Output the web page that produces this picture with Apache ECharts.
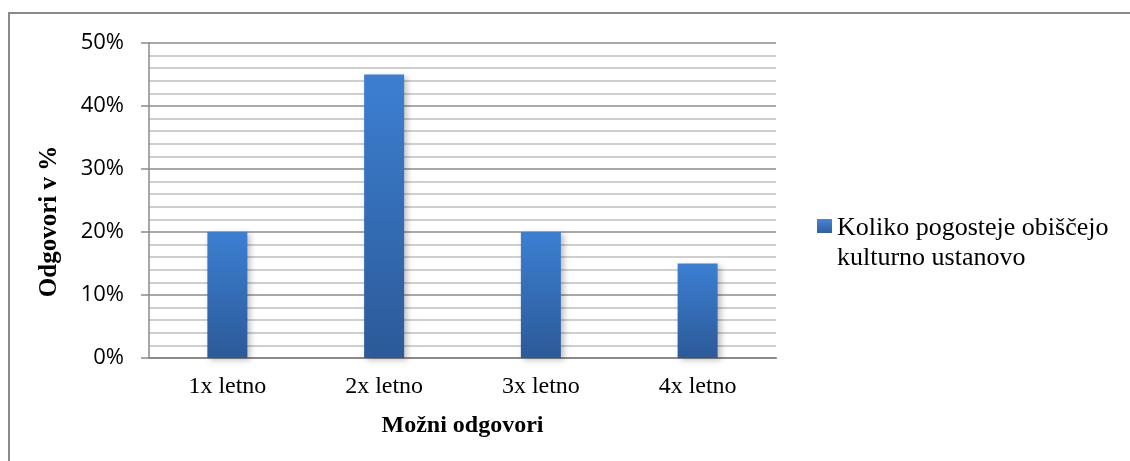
<!DOCTYPE html>
<html>
<head>
<meta charset="utf-8">
<script src="https://cdn.jsdelivr.net/npm/echarts@6/dist/echarts.min.js"></script>
<style>
html,body{margin:0;padding:0;background:#fff;}
#c{width:1130px;height:461px;}
</style>
</head>
<body>
<div id="c"></div>
<script>
const categories = ['1x letno', '2x letno', '3x letno', '4x letno'];
const values = [20, 45, 20, 15];
const seriesName = 'Koliko pogosteje obiščejo\nkulturno ustanovo';
const xAxisName = 'Možni odgovori';
const yAxisName = 'Odgovori v %';
const yMin = 0, yMax = 50, yInterval = 10;

const chart = echarts.init(document.getElementById('c'), null, {renderer: 'canvas'});
const serif = '"Liberation Serif", "Times New Roman", serif';
const barGrad = new echarts.graphic.LinearGradient(0, 0, 0, 1, [
  {offset: 0, color: '#3c7fd2'},
  {offset: 1, color: '#2c5a98'}
]);
const iconGrad = new echarts.graphic.LinearGradient(0, 0, 0, 0.3, [
  {offset: 0, color: '#4486d6'},
  {offset: 1, color: '#2d5e9f'}
]);
chart.setOption({
  animation: false,
  backgroundColor: '#fff',
  graphic: [{
    type: 'rect',
    shape: {x: 9, y: 13, width: 1140, height: 470},
    style: {fill: 'none', stroke: '#8a8a8a', lineWidth: 2},
    silent: true
  }],
  grid: {left: 149, right: 354, top: 43, bottom: 103},
  legend: {
    left: 817,
    top: 213,
    padding: 0,
    itemWidth: 15,
    itemHeight: 48,
    symbolKeepAspect: false,
    icon: 'path://M0,0L15,0L15,14L0,14Z M0,48L15,48',
    itemStyle: {color: iconGrad, borderWidth: 0, shadowBlur: 0},
    textStyle: {fontFamily: serif, fontSize: 26, color: '#000', lineHeight: 30},
    data: [seriesName]
  },
  xAxis: {
    type: 'category',
    data: categories,
    name: xAxisName,
    nameLocation: 'middle',
    nameGap: 56,
    nameTextStyle: {fontFamily: serif, fontSize: 24, fontWeight: 'bold', color: '#000'},
    axisLine: {show: true, lineStyle: {color: '#8a8a8a', width: 2}},
    axisTick: {show: false},
    axisLabel: {fontFamily: serif, fontSize: 24, color: '#000', margin: 17}
  },
  yAxis: {
    type: 'value',
    min: yMin,
    max: yMax,
    interval: yInterval,
    name: yAxisName,
    nameLocation: 'middle',
    nameRotate: 90,
    nameGap: 87,
    nameTextStyle: {fontFamily: serif, fontSize: 25, fontWeight: 'bold', color: '#000', padding: [0, 42, 0, 0]},
    axisLine: {show: true, lineStyle: {color: '#8a8a8a', width: 1.5}},
    axisTick: {show: true, length: 8, lineStyle: {color: '#8a8a8a', width: 1.5}},
    axisLabel: {fontFamily: '"Open Sans", sans-serif', fontSize: 22, color: '#000', margin: 25, formatter: '{value}%'},
    splitLine: {show: true, lineStyle: {color: '#8c8c8c', width: 1.5}},
    minorTick: {show: false, splitNumber: 5},
    minorSplitLine: {show: true, lineStyle: {color: '#c0c0c0', width: 1.5}}
  },
  series: [{
    type: 'bar',
    name: seriesName,
    data: values,
    barWidth: 40,
    itemStyle: {
      color: barGrad,
      shadowBlur: 6,
      shadowOffsetX: 3,
      shadowOffsetY: 2,
      shadowColor: 'rgba(0,0,0,0.25)'
    }
  }]
});
</script>
</body>
</html>
